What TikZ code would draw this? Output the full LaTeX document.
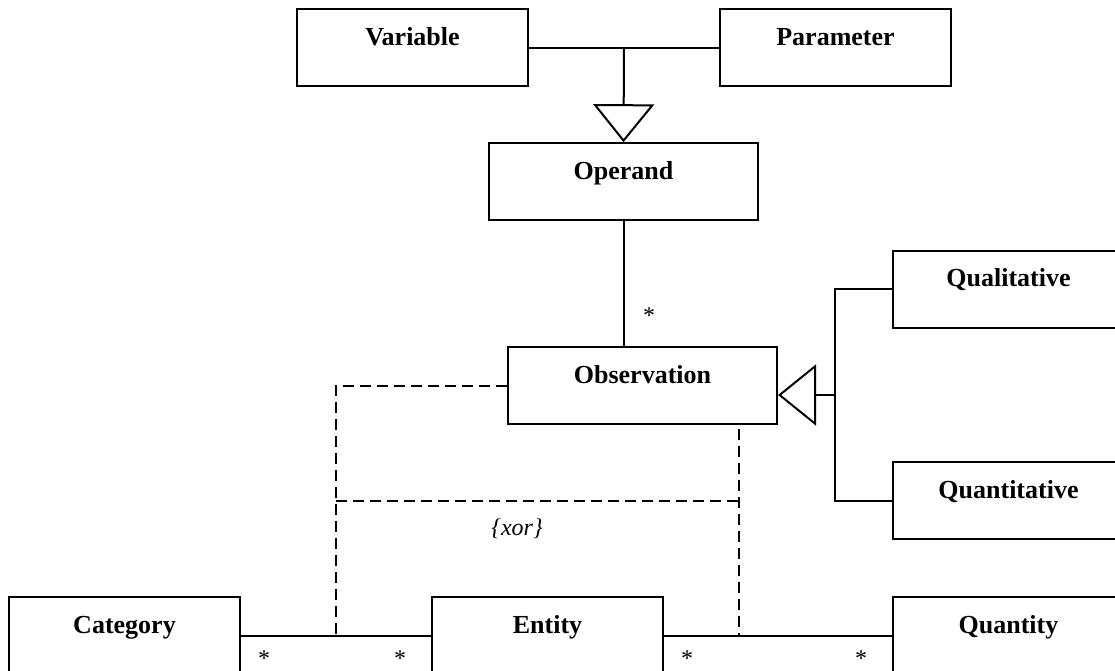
\documentclass[tikz,border=0pt]{standalone}
\usepackage{fontspec}
\setmainfont{Liberation Serif}
\usetikzlibrary{arrows.meta,calc}

\tikzset{
  cls/.style={draw, line width=2pt, inner sep=0pt, minimum width=231pt,
    text height=36pt, text depth=41pt, font=\fontsize{26}{30}\selectfont\bfseries},
  wide/.style={cls, minimum width=269pt},
  link/.style={line width=2pt},
  gen/.style={link, -{Triangle[open, length=38pt, width=61pt, line width=2pt]}},
  xordash/.style={line width=2pt, dash pattern=on 11pt off 6pt},
  mult/.style={font=\fontsize{24}{28}\selectfont, inner sep=0pt, anchor=base},
  constraint/.style={font=\fontsize{24}{28}\selectfont\itshape, inner sep=0pt}
}

\begin{document}
\begin{tikzpicture}[x=1pt, y=-1pt]
\useasboundingbox (0,0) rectangle (1115,671);
\clip (0,0) rectangle (1115,671);

% classes
\node[cls]  (var)   at (412.5, 47.7)  {Variable};
\node[cls]  (par)   at (835.5, 47.7)  {Parameter};
\node[wide] (op)    at (623.5, 181.7) {Operand};
\node[wide] (obs)   at (642.5, 385.5) {Observation};
\node[cls]  (qual)  at (1008.5, 289.2) {Qualitative};
\node[cls]  (quant) at (1008.5, 500.6) {Quantitative};
\node[cls]  (cat)   at (124.5, 635.5) {Category};
\node[cls]  (ent)   at (547.5, 635.5) {Entity};
\node[cls]  (qty)   at (1008.5, 635.5) {Quantity};

% generalisation: Variable / Parameter -> Operand
\draw[link] (var.east) -- (par.west);
\draw[gen] ($(var.east)!0.5!(par.west)$) -- (op.north);

% association Operand -- Observation
\draw[link] (op.south -| 624,0) -- (obs.north -| 624,0);
\node[mult] (m0) at (649, 323) {*};

% generalisation: Qualitative / Quantitative -> Observation
\coordinate (tr) at (835, 395);
\draw[link] (qual.west) -| (tr) |- (quant.west);
\draw[gen] (tr) -- (obs.east |- tr);

% associations along the bottom row
\draw[link] (cat.east) -- (ent.west);
\draw[link] (ent.east) -- (qty.west);
\node[mult] (m1) at (264, 666) {*};
\node[mult] (m2) at (400, 666) {*};
\node[mult] (m3) at (687, 666) {*};
\node[mult] (m4) at (861, 666) {*};

% xor constraint between the two associations
\coordinate (ca) at ($(cat.east)!0.5!(ent.west)$);
\coordinate (cb) at (739, 635.5);
\coordinate (ot) at (739, 429);
\draw[xordash] (obs.west) -| (ca);
\draw[xordash] (ot) -- (cb);
\draw[xordash] (336, 500.7) -- (739, 500.7);
\node[constraint] (xor) at (517, 529) {\{xor\}};
\end{tikzpicture}
\end{document}
